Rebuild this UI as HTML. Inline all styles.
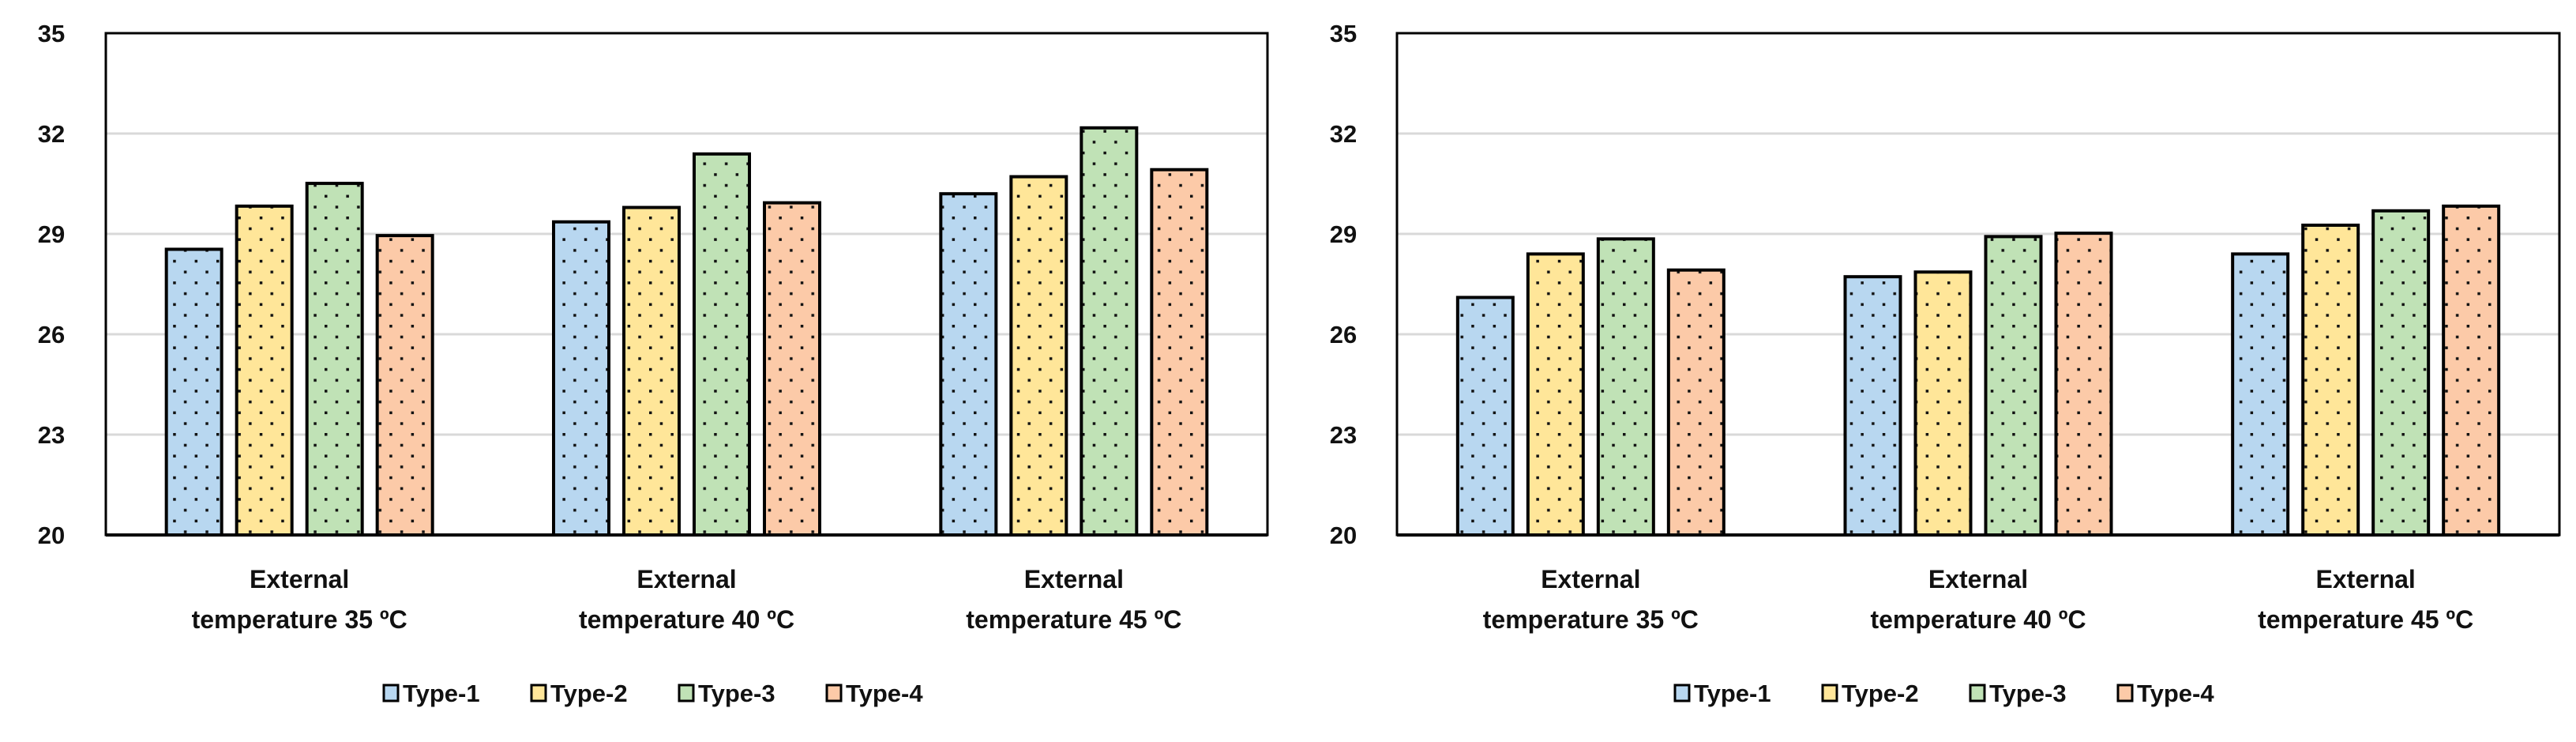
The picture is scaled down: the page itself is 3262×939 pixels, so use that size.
<!DOCTYPE html>
<html><head><meta charset="utf-8">
<style>
html,body{margin:0;padding:0;background:#fff;}
svg{display:block;font-family:"Liberation Sans",sans-serif;font-weight:bold;}
</style></head>
<body>
<svg id="c" width="3262" height="939" xmlns="http://www.w3.org/2000/svg">
<defs>
<pattern id="dots" width="27.4" height="27.4" patternUnits="userSpaceOnUse">
<rect x="0" y="0" width="3.5" height="3.5" fill="#111"/>
<rect x="13.7" y="13.7" width="3.5" height="3.5" fill="#111"/>
</pattern>
</defs>
</svg>
<script>
const categoriesLine1 = ["External","External","External"];
const categoriesLine2 = ["temperature 35 \u00BAC","temperature 40 \u00BAC","temperature 45 \u00BAC"];
const seriesNames = ["Type-1","Type-2","Type-3","Type-4"];
const yTicks = [20,23,26,29,32,35];
const leftType1 = [28.54,29.36,30.2];
const leftType2 = [29.83,29.79,30.71];
const leftType3 = [30.51,31.39,32.17];
const leftType4 = [28.95,29.93,30.92];
const rightType1 = [27.1,27.72,28.4];
const rightType2 = [28.4,27.86,29.26];
const rightType3 = [28.85,28.92,29.69];
const rightType4 = [27.92,29.02,29.83];

const colors = ["#b8d7f0","#ffe699","#c0e2b6","#fccaa8"];
const NS = "http://www.w3.org/2000/svg";
const svg = document.getElementById('c');
function mk(tag, attrs, parent){
  const e = document.createElementNS(NS, tag);
  for (const k in attrs) e.setAttribute(k, attrs[k]);
  (parent||svg).appendChild(e);
  return e;
}
function drawChart(prefix, px0, px1, labelX, series){
  const py0 = 42, py1 = 677;
  const yMin = 20, yMax = 35;
  const y = v => py1 - (v - yMin) / (yMax - yMin) * (py1 - py0);
  const g = mk('g', {});
  
  
  yTicks.forEach(t => {
    if (t !== yMin && t !== yMax) {
      const l = mk('line', {x1:px0, x2:px1, y1:y(t), y2:y(t), stroke:'#d9d9d9', 'stroke-width':3}, g);
      
      
    }
    const tx = mk('text', {x:labelX, y:y(t)+11, 'text-anchor':'middle', 'font-size':31, fill:'#111'}, g);
    
    
    tx.textContent = t;
  });
  const groupW = (px1 - px0) / categoriesLine1.length;
  const barW = 70, pitch = 89;
  categoriesLine1.forEach((c, i) => {
    const cx = px0 + groupW * (i + 0.5);
    series.forEach((s, j) => {
      const bx = cx - 2 * pitch + j * pitch + (pitch - barW) / 2;
      const top = y(s[i]);
      const r1 = mk('rect', {x:bx, y:top, width:barW, height:py1-top, fill:colors[j]}, g);
      
      
      const r2 = mk('rect', {x:bx, y:top, width:barW, height:py1-top, fill:'url(#dots)', stroke:'#000', 'stroke-width':4}, g);
      
      
    });
    const t1 = mk('text', {x:cx, y:744, 'text-anchor':'middle', 'font-size':32, fill:'#111'}, g);
    
    
    t1.textContent = c;
    const t2 = mk('text', {x:cx, y:795, 'text-anchor':'middle', 'font-size':32, fill:'#111'}, g);
    
    
    t2.textContent = categoriesLine2[i];
  });
  const frame = mk('rect', {x:px0, y:py0, width:px1-px0, height:py1-py0, fill:'none', stroke:'#000', 'stroke-width':3}, g);
  
  
  const base = mk('line', {x1:px0, x2:px1, y1:py1, y2:py1, stroke:'#000', 'stroke-width':4}, g);
  
  
  // legend
  const lg = mk('g', {}, g);
  
  
  const lx0 = px0 + 352;
  seriesNames.forEach((n, j) => {
    const sx = lx0 + j * 187;
    const sw = mk('rect', {x:sx, y:867, width:18, height:20, fill:colors[j], stroke:'#000', 'stroke-width':3}, lg);
    
    
    const lt = mk('text', {x:sx+24, y:888, 'font-size':31, fill:'#111'}, lg);
    
    
    lt.textContent = n;
  });
}
drawChart('left', 134, 1605, 65, [leftType1, leftType2, leftType3, leftType4]);
drawChart('right', 1769, 3241, 1701, [rightType1, rightType2, rightType3, rightType4]);
</script>
</body></html>
